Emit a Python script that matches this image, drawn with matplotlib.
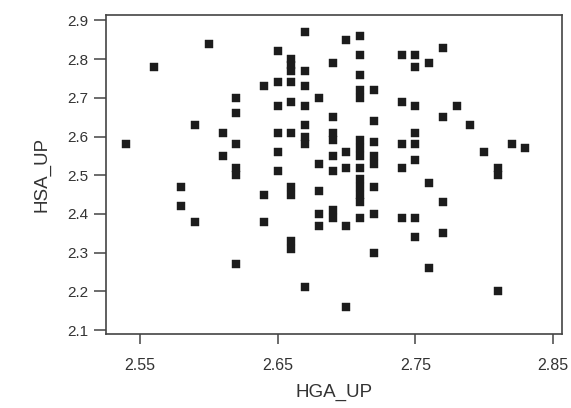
import matplotlib
matplotlib.use("Agg")
import matplotlib.pyplot as plt

plt.rcParams['font.family'] = ['Liberation Sans', 'DejaVu Sans']

# HGA_UP column value -> list of HSA_UP values
hga_2_54 = [2.58]
hga_2_56 = [2.78]
hga_2_58 = [2.47, 2.42]
hga_2_59 = [2.63, 2.38]
hga_2_60 = [2.84]
hga_2_61 = [2.61, 2.55]
hga_2_62 = [2.70, 2.66, 2.58, 2.52, 2.50, 2.27]
hga_2_64 = [2.73, 2.45, 2.38]
hga_2_65 = [2.82, 2.74, 2.68, 2.61, 2.56, 2.51]
hga_2_66 = [2.80, 2.785, 2.77, 2.74, 2.69, 2.61, 2.47, 2.45, 2.33, 2.31]
hga_2_67 = [2.87, 2.77, 2.73, 2.68, 2.63, 2.60, 2.58, 2.21]
hga_2_68 = [2.70, 2.53, 2.46, 2.40, 2.37]
hga_2_69 = [2.79, 2.65, 2.61, 2.59, 2.55, 2.51, 2.41, 2.39]
hga_2_70 = [2.85, 2.56, 2.52, 2.37, 2.16]
hga_2_71 = [2.86, 2.81, 2.76, 2.72, 2.70, 2.59, 2.57, 2.55, 2.52,
            2.49, 2.47, 2.45, 2.43, 2.39]
hga_2_72 = [2.72, 2.64, 2.585, 2.55, 2.53, 2.47, 2.40, 2.30]
hga_2_74 = [2.81, 2.69, 2.58, 2.52, 2.39]
hga_2_75 = [2.81, 2.78, 2.68, 2.61, 2.58, 2.54, 2.39, 2.34]
hga_2_76 = [2.79, 2.48, 2.26]
hga_2_77 = [2.83, 2.65, 2.43, 2.35]
hga_2_78 = [2.68]
hga_2_79 = [2.63]
hga_2_80 = [2.56]
hga_2_81 = [2.52, 2.50, 2.20]
hga_2_82 = [2.58]
hga_2_83 = [2.57]

columns = {
    2.54: hga_2_54, 2.56: hga_2_56, 2.58: hga_2_58, 2.59: hga_2_59,
    2.60: hga_2_60, 2.61: hga_2_61, 2.62: hga_2_62, 2.64: hga_2_64,
    2.65: hga_2_65, 2.66: hga_2_66, 2.67: hga_2_67, 2.68: hga_2_68,
    2.69: hga_2_69, 2.70: hga_2_70, 2.71: hga_2_71, 2.72: hga_2_72,
    2.74: hga_2_74, 2.75: hga_2_75, 2.76: hga_2_76, 2.77: hga_2_77,
    2.78: hga_2_78, 2.79: hga_2_79, 2.80: hga_2_80, 2.81: hga_2_81,
    2.82: hga_2_82, 2.83: hga_2_83,
}

x_ticks = [2.55, 2.65, 2.75, 2.85]
x_tick_labels = ["2.55", "2.65", "2.75", "2.85"]
y_ticks = [2.1, 2.2, 2.3, 2.4, 2.5, 2.6, 2.7, 2.8, 2.9]
y_tick_labels = ["2.1", "2.2", "2.3", "2.4", "2.5", "2.6", "2.7", "2.8", "2.9"]

xs, ys = [], []
for xv, yl in columns.items():
    for yv in yl:
        xs.append(xv)
        ys.append(yv)

fig = plt.figure(figsize=(5.71, 4.08), dpi=100)
ax = fig.add_axes([0.1856, 0.1814, 0.7984, 0.7816])
ax.scatter(xs, ys, marker='s', s=30, color='#1c1c1c', edgecolors='#1c1c1c',
           linewidths=0.3, zorder=3)

ax.set_xlim(2.5253, 2.8565)
ax.set_ylim(2.0897, 2.9139)
ax.set_xticks(x_ticks)
ax.set_xticklabels(x_tick_labels)
ax.set_yticks(y_ticks)
ax.set_yticklabels(y_tick_labels)

for sp in ax.spines.values():
    sp.set_color('#444444')
    sp.set_linewidth(1.2)

ax.tick_params(axis='x', direction='out', length=7, width=1.1, color='#444444',
               labelsize=11.5, labelcolor='#333333', pad=10)
ax.tick_params(axis='y', direction='out', length=9, width=1.1, color='#444444',
               labelsize=11, labelcolor='#333333', pad=4)

ax.set_xlabel("HGA_UP", fontsize=13.5, color='#333333', labelpad=8)
ax.set_ylabel("HSA_UP", fontsize=13.5, color='#333333', labelpad=12)

fig.savefig("out.png", dpi=100, facecolor='white')
